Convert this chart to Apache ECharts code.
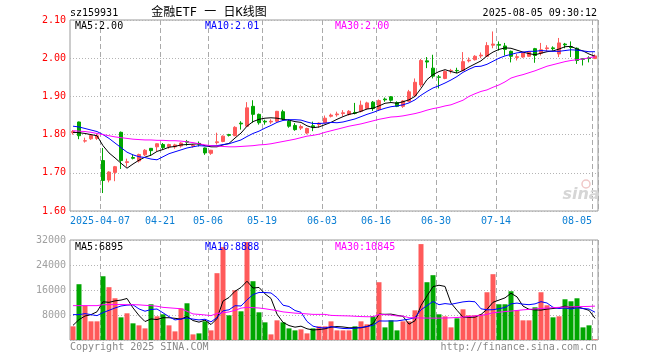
<!DOCTYPE html>
<html><head><meta charset="utf-8">
<script src="https://cdn.jsdelivr.net/npm/echarts@6/dist/echarts.min.js"></script>
<style>html,body{margin:0;padding:0;background:#fff}#c{width:660px;height:360px}</style>
</head><body><div id="c"></div>
<script>
const categories = ['2025-03-28','2025-03-31','2025-04-01','2025-04-02','2025-04-03','2025-04-07','2025-04-08','2025-04-09','2025-04-10','2025-04-11',
'2025-04-14','2025-04-15','2025-04-16','2025-04-17','2025-04-18','2025-04-21','2025-04-22','2025-04-23','2025-04-24','2025-04-25',
'2025-04-28','2025-04-29','2025-04-30','2025-05-06','2025-05-07','2025-05-08','2025-05-09','2025-05-12','2025-05-13','2025-05-14',
'2025-05-15','2025-05-16','2025-05-19','2025-05-20','2025-05-21','2025-05-22','2025-05-23','2025-05-26','2025-05-27','2025-05-28',
'2025-05-29','2025-05-30','2025-06-03','2025-06-04','2025-06-05','2025-06-06','2025-06-09','2025-06-10','2025-06-11','2025-06-12',
'2025-06-13','2025-06-16','2025-06-17','2025-06-18','2025-06-19','2025-06-20','2025-06-23','2025-06-24','2025-06-25','2025-06-26',
'2025-06-27','2025-06-30','2025-07-01','2025-07-02','2025-07-03','2025-07-04','2025-07-07','2025-07-08','2025-07-09','2025-07-10',
'2025-07-11','2025-07-14','2025-07-15','2025-07-16','2025-07-17','2025-07-18','2025-07-21','2025-07-22','2025-07-23','2025-07-24',
'2025-07-25','2025-07-28','2025-07-29','2025-07-30','2025-07-31','2025-08-01','2025-08-04','2025-08-05'];

const openP = [1.805,1.833,1.783,1.789,1.790,1.732,1.681,1.701,1.806,1.727,
1.740,1.731,1.747,1.764,1.768,1.774,1.768,1.768,1.770,1.782,
1.770,1.777,1.765,1.751,1.779,1.782,1.800,1.797,1.830,1.822,
1.874,1.853,1.835,1.833,1.835,1.860,1.835,1.824,1.817,1.804,
1.823,1.826,1.831,1.848,1.852,1.855,1.853,1.858,1.861,1.868,
1.885,1.866,1.893,1.899,1.884,1.874,1.887,1.902,1.930,1.993,
1.974,1.951,1.947,1.967,1.968,1.968,1.993,1.996,2.006,2.005,
2.034,2.036,2.032,2.018,2.002,2.003,2.005,2.025,2.013,2.025,
2.027,2.011,2.037,2.030,2.026,1.999,2.001,1.999];
const closeP = [1.808,1.797,1.784,1.798,1.797,1.680,1.702,1.716,1.732,1.729,
1.738,1.748,1.759,1.758,1.776,1.766,1.774,1.773,1.778,1.780,
1.772,1.775,1.752,1.759,1.781,1.796,1.798,1.819,1.828,1.870,
1.853,1.831,1.833,1.835,1.861,1.841,1.822,1.813,1.821,1.816,
1.820,1.830,1.843,1.851,1.854,1.857,1.861,1.856,1.877,1.883,
1.868,1.889,1.891,1.890,1.874,1.888,1.912,1.937,1.994,1.990,
1.953,1.950,1.965,1.968,1.967,1.991,1.995,2.005,2.008,2.033,
2.037,2.034,2.023,2.005,2.004,2.014,2.016,2.007,2.022,2.027,
2.025,2.040,2.035,2.028,1.994,1.997,1.999,2.006];
const lowP = [1.800,1.788,1.779,1.786,1.786,1.647,1.675,1.678,1.710,1.716,
1.735,1.727,1.744,1.745,1.757,1.761,1.763,1.763,1.766,1.771,
1.766,1.769,1.747,1.747,1.774,1.780,1.795,1.796,1.813,1.820,
1.831,1.826,1.826,1.828,1.833,1.838,1.818,1.810,1.812,1.801,
1.809,1.818,1.830,1.845,1.847,1.848,1.850,1.853,1.858,1.866,
1.862,1.862,1.886,1.886,1.872,1.870,1.885,1.899,1.924,1.974,
1.947,1.921,1.945,1.960,1.961,1.966,1.989,1.994,2.000,2.004,
2.026,2.020,2.007,1.989,1.994,2.001,2.003,1.988,2.007,2.018,
2.020,2.003,2.026,2.003,1.985,1.981,1.989,1.998];
const highP = [1.812,1.834,1.792,1.800,1.803,1.765,1.704,1.718,1.808,1.737,
1.748,1.750,1.762,1.765,1.777,1.778,1.776,1.776,1.780,1.786,
1.775,1.782,1.766,1.760,1.805,1.798,1.802,1.822,1.835,1.885,
1.890,1.855,1.839,1.840,1.862,1.865,1.840,1.830,1.826,1.818,
1.834,1.832,1.850,1.855,1.860,1.864,1.864,1.883,1.889,1.886,
1.888,1.892,1.897,1.901,1.887,1.890,1.917,1.947,1.998,2.003,
2.009,1.956,1.968,1.972,1.975,2.016,2.002,2.008,2.015,2.042,
2.070,2.044,2.040,2.020,2.011,2.016,2.018,2.027,2.040,2.034,
2.031,2.053,2.040,2.044,2.028,2.000,2.005,2.010];

const volume = [4370,17850,11000,5970,5970,20400,16900,13350,7250,8540,
5330,4690,3720,11430,7580,8220,4690,2760,10140,11750,
1800,2120,5970,3080,21380,29720,7900,15920,9180,31330,
18810,8860,5650,1800,6290,5650,3720,3080,3400,2120,
3720,4370,4370,5970,3080,3080,3080,4370,5970,5010,
7580,18490,4040,6290,3080,5970,5970,9500,30690,18490,
20740,8220,7580,4040,6930,9820,7900,7900,8220,15280,
21060,11430,11430,15600,9500,6290,6290,10460,15280,11110,
7250,7580,13030,12390,13350,4040,4690,200];

const priceMA5 = [1.806,1.805,1.803,1.800,1.797,1.771,1.752,1.739,1.725,1.712,
1.723,1.733,1.741,1.746,1.756,1.761,1.767,1.769,1.773,1.774,
1.775,1.776,1.771,1.768,1.768,1.773,1.777,1.791,1.804,1.822,
1.834,1.840,1.843,1.844,1.843,1.840,1.838,1.834,1.832,1.823,
1.818,1.820,1.826,1.832,1.840,1.847,1.853,1.856,1.861,1.867,
1.869,1.875,1.882,1.884,1.882,1.886,1.891,1.900,1.921,1.944,
1.957,1.965,1.970,1.965,1.961,1.968,1.977,1.985,1.993,2.006,
2.016,2.023,2.027,2.026,2.021,2.016,2.012,2.009,2.013,2.017,
2.019,2.024,2.030,2.031,2.024,2.019,2.011,2.005];
const priceMA10 = [1.822,1.820,1.816,1.812,1.808,1.800,1.790,1.778,1.766,1.754,
1.747,1.742,1.740,1.736,1.734,1.742,1.750,1.755,1.760,1.765,
1.768,1.771,1.770,1.771,1.771,1.774,1.776,1.781,1.786,1.795,
1.803,1.809,1.817,1.824,1.832,1.837,1.839,1.839,1.838,1.833,
1.829,1.829,1.830,1.832,1.831,1.833,1.837,1.841,1.847,1.853,
1.858,1.864,1.869,1.873,1.875,1.878,1.883,1.891,1.903,1.913,
1.922,1.928,1.935,1.943,1.952,1.963,1.971,1.978,1.979,1.984,
1.992,2.000,2.006,2.010,2.014,2.016,2.018,2.018,2.020,2.019,
2.018,2.018,2.020,2.022,2.021,2.019,2.017,2.017];
const priceMA30 = [1.810,1.809,1.808,1.806,1.803,1.800,1.797,1.794,1.792,1.790,
1.788,1.787,1.786,1.786,1.785,1.785,1.784,1.784,1.783,1.781,
1.779,1.776,1.773,1.771,1.770,1.769,1.768,1.768,1.769,1.770,
1.771,1.773,1.774,1.776,1.779,1.782,1.785,1.788,1.792,1.796,
1.798,1.801,1.806,1.810,1.814,1.818,1.822,1.825,1.828,1.832,
1.836,1.840,1.843,1.846,1.847,1.849,1.852,1.855,1.859,1.864,
1.868,1.871,1.875,1.878,1.884,1.890,1.900,1.907,1.913,1.917,
1.924,1.930,1.938,1.948,1.953,1.957,1.962,1.967,1.973,1.979,
1.983,1.987,1.991,1.994,1.996,1.998,2.001,2.004];

const volMA5 = [4690,6520,7680,8120,9032,12238,12048,12518,12774,13288,
10274,7832,5906,6742,6550,7128,7128,6936,6678,7512,
6228,5714,6356,4944,6870,12454,13610,15600,16820,18810,
16628,16820,14766,13290,8282,5650,4622,4108,4428,3594,
3208,3338,3596,4110,4302,4174,3916,3916,3916,4302,
5202,8284,8218,8282,7896,7574,5070,6162,11042,14124,
17078,17528,17144,11814,9502,7318,7254,7318,8154,9824,
12072,12778,13484,14960,13804,10850,9822,9628,9564,9886,
10078,10336,10850,10272,10720,10078,9500,6934];
const volMA10 = [8120,8120,8440,8120,7800,8760,9500,10240,10880,11160,
11256,9940,9212,9758,9919,8701,7480,6421,6710,7031,
6678,6421,6646,5811,7191,9341,9662,10978,10882,12840,
14541,15215,15183,15055,13546,11139,10721,9437,8859,5938,
4429,3980,3852,4269,3948,3691,3627,3756,4013,4302,
4688,6100,6067,6099,6099,6388,6677,7190,9662,11010,
12326,11299,11653,11428,11813,12198,12391,12231,9984,9663,
9695,10016,10401,11557,11814,11461,11300,11556,12262,11845,
10464,10079,10239,9918,10303,10078,9918,8892];
const volMA30 = [11000,11000,11000,11000,11000,11300,11300,11350,11350,11300,
11300,11250,11100,11000,10800,10450,10300,10150,10000,9200,
8340,8200,8020,7800,8500,8700,8980,9500,10200,10450,
10350,10240,10000,9700,9400,9000,8800,8600,8500,8350,
8200,8200,8200,7880,7800,7750,7700,7600,7500,7450,
7450,8180,8100,8000,7700,7660,7130,7100,7050,7020,
7000,7000,7050,7100,7200,7340,7500,7700,7880,8200,
8730,8900,9100,9260,9450,9650,9800,9950,10100,10240,
10350,10450,10550,10600,10660,10700,10760,10845];

const tickDates = ['2025-04-07','2025-04-21','2025-05-06','2025-05-19','2025-06-03','2025-06-16','2025-06-30','2025-07-14','2025-08-05'];
const tickLabels = ['2025-04-07','04-21','05-06','05-19','06-03','06-16','06-30','07-14','08-05'];

const UP = '#ff5a5a', DOWN = '#00a600';
const MONO = '"DejaVu Sans Mono", monospace';
const tickIdx = new Set(tickDates.map(d => categories.indexOf(d)));
const isTick = (i) => tickIdx.has(i);

const candleData = categories.map((d, i) => [openP[i], closeP[i], lowP[i], highP[i]]);
const volData = volume.map((v, i) => ({ value: v, itemStyle: { color: closeP[i] >= openP[i] ? UP : DOWN } }));

const chart = echarts.init(document.getElementById('c'), null, { renderer: 'canvas' });

const vSplit = { show: true, interval: isTick, lineStyle: { color: '#aaaaaa', width: 1, type: [5, 3] } };
const hSplit = { show: true, lineStyle: { color: '#b4b4b4', width: 1, type: [1, 2] } };

function txt(text, x, y, color, align, size, family) {
  return { type: 'text', x: x, y: y, z: 100, silent: true,
    style: { text: text, fill: color, font: (size || 10) + 'px ' + (family || MONO), textAlign: align || 'left', textVerticalAlign: 'middle' } };
}

chart.setOption({
  animation: false,
  backgroundColor: '#ffffff',
  grid: [
    { left: 70, top: 20, width: 528, height: 191, show: true, borderColor: '#9a9a9a', borderWidth: 1, backgroundColor: 'transparent' },
    { left: 70, top: 240, width: 528, height: 100, show: true, borderColor: '#9a9a9a', borderWidth: 1, backgroundColor: 'transparent' }
  ],
  xAxis: [
    { type: 'category', gridIndex: 0, data: categories, boundaryGap: true,
      axisLine: { show: false }, axisTick: { show: false },
      axisLabel: { interval: isTick, margin: 5, color: '#0b7fd4', fontFamily: MONO, fontSize: 10,
        formatter: (v) => { const k = tickDates.indexOf(v); if (k < 0) return ''; return (k === tickDates.length - 1 ? '{e|' : '{n|') + tickLabels[k] + '}'; },
        rich: { n: { color: '#0b7fd4', fontFamily: MONO, fontSize: 10, padding: [0, 6, 0, 0] },
                e: { color: '#0b7fd4', fontFamily: MONO, fontSize: 10, padding: [0, 36, 0, 0] } } },
      splitLine: vSplit },
    { type: 'category', gridIndex: 1, data: categories, boundaryGap: true,
      axisLine: { show: false }, axisTick: { show: false }, axisLabel: { show: false },
      splitLine: vSplit }
  ],
  yAxis: [
    { type: 'value', gridIndex: 0, min: 1.6, max: 2.1, interval: 0.1, scale: true,
      axisLine: { show: false }, axisTick: { show: false },
      axisLabel: { color: '#ff0000', fontFamily: MONO, fontSize: 10, margin: 4, formatter: (v) => v.toFixed(2) },
      splitLine: hSplit },
    { type: 'value', gridIndex: 1, min: 0, max: 32000, interval: 8000,
      axisLine: { show: false }, axisTick: { show: false },
      axisLabel: { color: '#a0a0a0', fontFamily: MONO, fontSize: 10, margin: 4, formatter: (v) => v === 0 ? '' : String(v) },
      splitLine: hSplit }
  ],
  series: [
    { type: 'candlestick', xAxisIndex: 0, yAxisIndex: 0, data: candleData, barWidth: 4,
      itemStyle: { color: UP, color0: DOWN, borderColor: UP, borderColor0: DOWN, borderWidth: 1 } },
    { type: 'line', xAxisIndex: 0, yAxisIndex: 0, data: priceMA5, symbol: 'none', lineStyle: { color: '#000000', width: 1 }, z: 5 },
    { type: 'line', xAxisIndex: 0, yAxisIndex: 0, data: priceMA10, symbol: 'none', lineStyle: { color: '#0000ff', width: 1 }, z: 5 },
    { type: 'line', xAxisIndex: 0, yAxisIndex: 0, data: priceMA30, symbol: 'none', lineStyle: { color: '#ff00ff', width: 1 }, z: 5 },
    { type: 'bar', xAxisIndex: 1, yAxisIndex: 1, data: volData, barWidth: 5 },
    { type: 'line', xAxisIndex: 1, yAxisIndex: 1, data: volMA5, symbol: 'none', lineStyle: { color: '#000000', width: 1 }, z: 5 },
    { type: 'line', xAxisIndex: 1, yAxisIndex: 1, data: volMA10, symbol: 'none', lineStyle: { color: '#0000ff', width: 1 }, z: 5 },
    { type: 'line', xAxisIndex: 1, yAxisIndex: 1, data: volMA30, symbol: 'none', lineStyle: { color: '#ff00ff', width: 1 }, z: 5 }
  ],
  graphic: [
    txt('sz159931', 70, 13, '#000000'),
    txt('金融ETF 一 日K线图', 209, 13, '#000000', 'center', 12, '"DejaVu Sans Mono", "Noto Sans CJK SC"'),
    txt('2025-08-05 09:30:12', 597, 13, '#000000', 'right'),
    txt('MA5:2.00', 75, 26, '#000000'),
    txt('MA10:2.01', 205, 26, '#0000ff'),
    txt('MA30:2.00', 335, 26, '#ff00ff'),
    txt('MA5:6895', 75, 247, '#000000'),
    txt('MA10:8888', 205, 247, '#0000ff'),
    txt('MA30:10845', 335, 247, '#ff00ff'),
    txt('Copyright 2025 SINA.COM', 70, 347, '#888888'),
    txt('http://finance.sina.com.cn', 597, 347, '#888888', 'right'),
    { type: 'text', x: 581, y: 195, z: 1, silent: true,
      style: { text: 'sina', fill: '#d6d6d6', font: 'italic bold 16px "DejaVu Sans"', textAlign: 'center', textVerticalAlign: 'middle' } },
    { type: 'circle', shape: { cx: 586, cy: 184, r: 4 }, z: 1, silent: true, style: { fill: 'none', stroke: '#f0c8c8', lineWidth: 1.5 } }
  ]
});
</script></body></html>
